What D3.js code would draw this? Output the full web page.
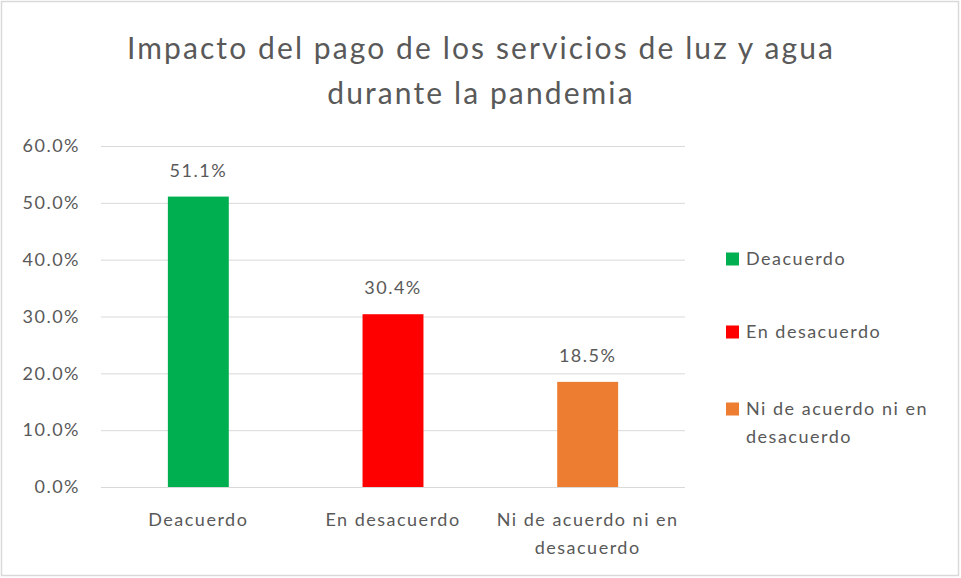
<!DOCTYPE html>
<html><head><meta charset="utf-8">
<script src="https://cdn.jsdelivr.net/npm/d3@7"></script>
<style>body{margin:0;background:#fff}text{font-family:Lato,"Open Sans",sans-serif;fill:#595959}</style>
</head><body><svg id="c" width="961" height="578"></svg>
<script>
const categories = ["Deacuerdo", "En desacuerdo", "Ni de acuerdo ni en desacuerdo"];
const categoryLines = [["Deacuerdo"], ["En desacuerdo"], ["Ni de acuerdo ni en", "desacuerdo"]];
const values = [0.511, 0.304, 0.185];
const colors = ["#00B050", "#FF0000", "#ED7D31"];
const yTicks = [0, 0.1, 0.2, 0.3, 0.4, 0.5, 0.6];
const titleLines = ["Impacto del pago de los servicios de luz y agua", "durante la pandemia"];

const svg = d3.select("#c");
svg.append("rect").attr("x",1.5).attr("y",1.5).attr("width",957).attr("height",574)
  .attr("fill","#fff").attr("stroke","#d9d9d9").attr("stroke-width",1.5);

const m = {left:101, right:685, top:146, bottom:487};
const x = d3.scaleBand().domain(categories).range([m.left, m.right]).paddingInner(0.687).paddingOuter(0.3435);
const y = d3.scaleLinear().domain([0, 0.6]).range([m.bottom, m.top]);
const ls = "1.5px";

svg.append("g").selectAll("text").data(titleLines).join("text")
  .attr("x", 481).attr("y", (d,i)=>59 + i*45).attr("text-anchor","middle")
  .style("font-size","30px").style("letter-spacing","2.1px").text(d=>d);

const yAxis = d3.axisLeft(y).tickValues(yTicks).tickFormat(d3.format(".1%")).tickSize(-(m.right-m.left)).tickPadding(21);
const gy = svg.append("g").attr("transform",`translate(${m.left},0)`).call(yAxis);
gy.select(".domain").remove();
gy.selectAll(".tick line").attr("stroke","#d9d9d9").attr("stroke-width",1);
gy.selectAll(".tick text").style("font-size","18px").style("letter-spacing",ls).attr("fill","#595959");

svg.append("g").selectAll("rect").data(values).join("rect")
  .attr("x",(d,i)=>x(categories[i])).attr("width",x.bandwidth())
  .attr("y",d=>y(d)).attr("height",d=>y(0)-y(d)).attr("fill",(d,i)=>colors[i]);

svg.append("g").selectAll("text").data(values).join("text")
  .attr("x",(d,i)=>x(categories[i])+x.bandwidth()/2).attr("y",d=>y(d)-20)
  .attr("text-anchor","middle").style("font-size","18px").style("letter-spacing",ls).text(d=>d3.format(".1%")(d));

const gx = svg.append("g");
categories.forEach((c,i)=>{
  gx.append("g").selectAll("text").data(categoryLines[i]).join("text")
    .attr("x", x(c)+x.bandwidth()/2).attr("y",(d,j)=>526 + j*28)
    .attr("text-anchor","middle").style("font-size","18px").style("letter-spacing",ls).text(d=>d);
});

const legY = [259, 332, 409];
const lg = svg.append("g");
categories.forEach((c,i)=>{
  lg.append("rect").attr("x",726).attr("y",legY[i]-6.5).attr("width",13).attr("height",13).attr("fill",colors[i]);
  lg.append("g").selectAll("text").data(categoryLines[i]).join("text")
    .attr("x",746).attr("y",(d,j)=>legY[i]+6+j*28).style("font-size","18px").style("letter-spacing",ls).text(d=>d);
});
</script></body></html>
